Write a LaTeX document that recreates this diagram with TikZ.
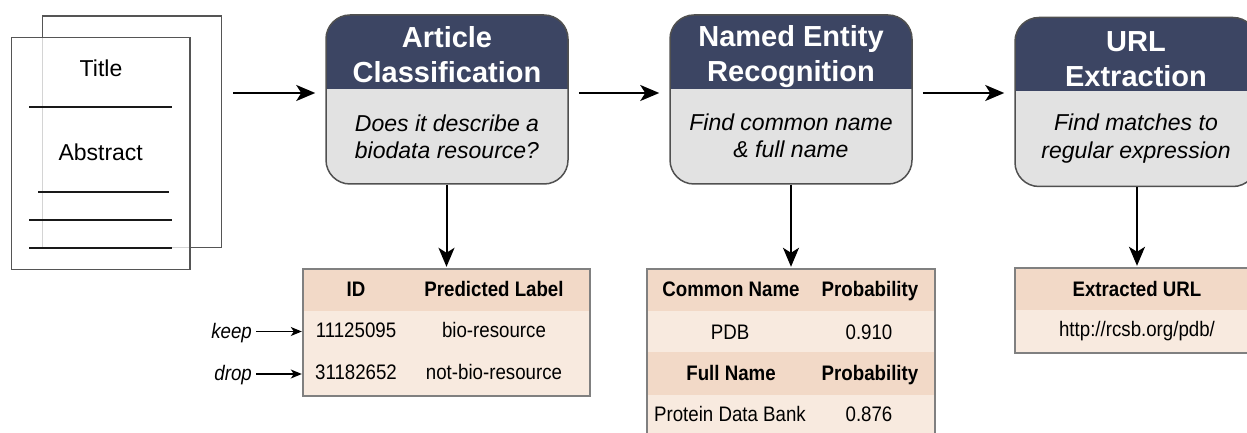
\documentclass[tikz,border=0pt]{standalone}
\usepackage{fontspec}
\setmainfont{Liberation Sans}
\newfontfamily\narrowf[FakeStretch=0.89]{Liberation Sans}
\usetikzlibrary{arrows.meta,calc}
\definecolor{navy}{HTML}{3C4563}
\definecolor{boxgray}{HTML}{E2E2E2}
\definecolor{boxline}{HTML}{505050}
\definecolor{peachhead}{HTML}{F2D9C7}
\definecolor{peachrow}{HTML}{F8EADF}
\definecolor{tabline}{HTML}{808080}
\definecolor{pageline}{HTML}{555555}
\begin{document}
\begin{tikzpicture}[x=1bp,y=-1bp,
  stage/.style={draw=boxline, line width=1.5bp, fill=boxgray, rounded corners=24bp,
    minimum width=242bp, minimum height=169bp, inner sep=0pt,
    path picture={\fill[navy, sharp corners] (path picture bounding box.north west) rectangle ([yshift=-74bp]path picture bounding box.north east);}},
  hdrtext/.style={font=\fontsize{29bp}{35bp}\selectfont\bfseries, text=white, align=center, inner sep=0pt},
  bodytext/.style={font=\fontsize{23bp}{27.5bp}\selectfont\itshape, align=center, inner sep=0pt},
  page/.style={draw=pageline, line width=1.5bp, inner sep=0pt},
  pagetext/.style={font=\fontsize{23bp}{27bp}\selectfont, inner sep=0pt},
  rule/.style={line width=2bp, black!90},
  cellh/.style={fill=peachhead, draw=none, inner sep=0pt},
  cellr/.style={fill=peachrow, draw=none, inner sep=0pt},
  tabtext/.style={font=\narrowf\fontsize{21bp}{25bp}\selectfont, inner sep=0pt, text height=15bp, text depth=0bp},
  tabhead/.style={tabtext, font=\narrowf\fontsize{21bp}{25bp}\selectfont\bfseries},
  tabframe/.style={draw=tabline, line width=1.5bp},
  arr/.style={-{Stealth[length=19bp,width=16bp,inset=5bp]}, line width=2bp, black},
  smallarr/.style={-{Stealth[length=11bp,width=9bp,inset=3bp]}, line width=1.3bp, black},
  sidetext/.style={font=\narrowf\fontsize{21bp}{25bp}\selectfont\itshape, inner sep=0pt, text height=15bp, text depth=0bp}
]
\useasboundingbox (0,0) rectangle (1247,433);
\clip (0,0) rectangle (1247,433);

% --- document pages ---
\node[page, minimum width=179bp, minimum height=231.7bp] (back) at (132.2,131.85) {};
\node[page, fill=white, fill opacity=0.75, minimum width=178.3bp, minimum height=232bp] (front) at (100.85,153.3) {};
\node[pagetext] (title) at (101,68) {Title};
\node[pagetext] (abstract) at (100.7,152) {Abstract};
\draw[rule] (29.3,107.3) -- (172.3,107.3);
\draw[rule] (38.3,191.7) -- (169,191.7);
\draw[rule] (29.3,219.7) -- (172.3,219.7);
\draw[rule] (29.3,247.7) -- (172.3,247.7);

% --- stage boxes ---
\node[stage] (ac) at (447,99.5) {};
\node[hdrtext] (acT) at (447,54.5) {Article\\Classification};
\node[bodytext] (acB) at (447,137) {Does it describe a\\biodata resource?};

\node[stage] (ner) at (791,99.5) {};
\node[hdrtext] (nerT) at (791,56.5) {Named Entity\\Recognition};
\node[bodytext] (nerB) at (791,136) {Find common name\\\& full name};

\node[stage] (url) at (1136,102) {};
\node[hdrtext] (urlT) at (1136,59) {URL\\Extraction};
\node[bodytext] (urlB) at (1136,138.5) {Find matches to\\regular expression};

% --- horizontal arrows ---
\coordinate (a1s) at (233,93);
\draw[arr] (a1s) -- ([xshift=-10bp]a1s -| ac.west);
\draw[arr, shorten <=10bp, shorten >=10bp] (ac.east |- a1s) -- (ner.west |- a1s);
\draw[arr, shorten <=10bp, shorten >=10bp] (ner.east |- a1s) -- (url.west |- a1s);

% --- table 1 ---
\node[cellh, minimum width=287bp, minimum height=42bp] (t1h) at (446.5,290) {};
\node[cellr, minimum width=287bp, minimum height=41bp] (t1r1) at (446.5,331.5) {};
\node[cellr, minimum width=287bp, minimum height=44bp] (t1r2) at (446.5,374) {};
\draw[tabframe] (t1h.north west) rectangle (t1r2.south east);
\node[tabhead] (t1c1) at (356,289.5) {ID};
\node[tabhead] (t1c2) at (494,289.5) {Predicted Label};
\node[tabtext] (t1a1) at (356,330.5) {11125095};
\node[tabtext] (t1a2) at (494,330.5) {bio-resource};
\node[tabtext] (t1b1) at (356,372.5) {31182652};
\node[tabtext] (t1b2) at (494,372.5) {not-bio-resource};
\node[sidetext, anchor=east] (keep) at (252,331) {keep};
\node[sidetext, anchor=east] (drop) at (252,373.5) {drop};
\draw[smallarr, shorten <=4bp, shorten >=1bp] (keep.east |- t1r1.west) -- (t1r1.west);
\draw[smallarr, shorten <=4bp, shorten >=1bp] (drop.east |- t1r2.west) -- (t1r2.west);

% --- table 2 ---
\node[cellh, minimum width=288bp, minimum height=42bp] (t2h1) at (791,290) {};
\node[cellr, minimum width=288bp, minimum height=41bp] (t2r1) at (791,331.5) {};
\node[cellh, minimum width=288bp, minimum height=43bp] (t2h2) at (791,373.5) {};
\node[cellr, minimum width=288bp, minimum height=45bp] (t2r2) at (791,417.5) {};
\draw[tabframe] (t2h1.north west) rectangle (t2r2.south east);
\node[tabhead] (t2c1) at (731,289) {Common Name};
\node[tabhead] (t2c2) at (870,289) {Probability};
\node[tabtext] (t2a1) at (730,332) {PDB};
\node[tabtext] (t2a2) at (869,332) {0.910};
\node[tabhead] (t2d1) at (731,373.5) {Full Name};
\node[tabhead] (t2d2) at (870,373.5) {Probability};
\node[tabtext] (t2b1) at (730,414) {Protein Data Bank};
\node[tabtext] (t2b2) at (869,414) {0.876};

% --- table 3 ---
\node[cellh, minimum width=244bp, minimum height=42bp] (t3h) at (1137,289) {};
\node[cellr, minimum width=244bp, minimum height=43bp] (t3r) at (1137,331.5) {};
\draw[tabframe] (t3h.north west) rectangle (t3r.south east);
\node[tabhead] (t3c1) at (1137,289) {Extracted URL};
\node[tabtext] (t3a1) at (1137,329) {http://rcsb.org/pdb/};

% --- vertical arrows ---
\draw[arr, shorten >=2bp] (ac.south -| t1h.north) -- (t1h.north);
\draw[arr, shorten >=2bp] (ner.south) -- (t2h1.north);
\draw[arr, shorten >=2bp] (url.south -| t3h.north) -- (t3h.north);
\end{tikzpicture}
\end{document}
